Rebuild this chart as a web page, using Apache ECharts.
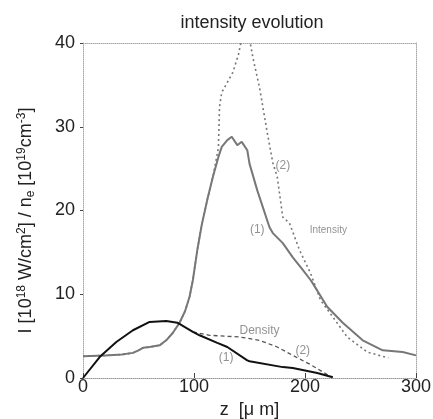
<!DOCTYPE html>
<html><head><meta charset="utf-8">
<script src="https://cdn.jsdelivr.net/npm/echarts@6/dist/echarts.min.js"></script>
<style>html,body{margin:0;padding:0;background:#fff}#c{width:433px;height:419px}</style>
</head><body><div id="c"></div>
<script>
const xTicks = [0, 100, 200, 300];
const yTicks = [0, 10, 20, 30, 40];
const intensity1 = [[0,2.6],[20,2.7],[35,2.8],[45,3.0],[50,3.3],[54,3.6],[60,3.7],[69,3.9],[75,4.5],[81,5.4],[87,6.6],[92,8.0],[96,9.7],[99,11.7],[103,15.3],[107,18.3],[112,21.3],[117,24.0],[122,26.4],[125,27.6],[130,28.4],[134,28.8],[139,27.8],[143,28.2],[148,27.2],[150,25.6],[157,22.4],[162,20.4],[168,18.0],[171,17.3],[180,16.1],[189,14.4],[198,12.9],[205,11.7],[207,11.3],[220,8.5],[234,6.6],[252,4.5],[270,3.3],[288,3.1],[300,2.7]];
const intensity2 = [[0,2.6],[20,2.7],[35,2.8],[45,3.0],[50,3.3],[54,3.6],[60,3.7],[69,3.9],[75,4.5],[81,5.4],[87,6.6],[92,8.0],[96,9.7],[99,11.7],[103,15.3],[107,18.3],[112,21.3],[117,24.0],[122,27.5],[123,32.4],[125,34.1],[130,35.3],[135,36.5],[140,38.6],[143,40.5],[150,40.5],[153,38.3],[159,34.7],[166,29.3],[171,25.7],[175,24.0],[180,19.2],[186,18.5],[195,15.3],[205,12.5],[214,9.3],[225,7.3],[238,4.9],[256,3.1],[275,2.4]];
const density1 = [[0,0],[15,2.5],[30,4.3],[45,5.7],[60,6.7],[75,6.8],[85,6.6],[99,5.5],[105,5.1],[121,4.2],[130,3.7],[148,2.1],[150,2.0],[180,1.3],[189,1.2],[211,0.6],[225,0.1]];
const density2 = [[99,5.5],[114,5.1],[141,4.9],[159,4.5],[175,3.7],[189,2.7],[205,1.6],[220,0.4],[225,0.1]];
const notes = [
  {text:'(2)', at:[180,25.4], size:12},
  {text:'(1)', at:[157,17.7], size:12},
  {text:'Intensity', at:[221,17.7], size:10},
  {text:'Density', at:[159,5.6], size:12},
  {text:'(1)', at:[129,2.4], size:12},
  {text:'(2)', at:[198,3.3], size:12}
];
const chart = echarts.init(document.getElementById('c'));
const font = '"Liberation Sans", Arial, sans-serif';
chart.setOption({
  animation:false,
  title:{text:'intensity evolution', left:247, top:9, textAlign:'center',
    textStyle:{fontFamily:font, fontSize:18, fontWeight:'normal', color:'#222'}},
  grid:{left:83, right:17, top:43, bottom:41, outerBoundsMode:'none', containLabel:false},
  xAxis:[{type:'value', min:0, max:300, interval:100,
    name:'z  [μ m]', nameLocation:'middle', nameGap:21,
    nameTextStyle:{fontFamily:font, fontSize:18, color:'#222'},
    axisLine:{lineStyle:{color:'#999', type:'dotted'}},
    axisTick:{inside:true, length:5, lineStyle:{color:'#444'}},
    axisLabel:{fontFamily:font, fontSize:18, color:'#222', margin:0,
      formatter:v=>xTicks.includes(v)?String(v):''},
    splitLine:{show:false}},
   {type:'value', position:'top', min:0, max:300, interval:100,
    axisLine:{show:true, onZero:false, lineStyle:{color:'#aaa', type:'dotted'}},
    axisTick:{show:false}, axisLabel:{show:false}, splitLine:{show:false}}],
  yAxis:[{type:'value', min:0, max:40, interval:10,
    name:'{n|I [10}{s|18}{n| W/cm}{s|2}{n|] / n}{b|e}{n| [10}{s|19}{n|cm}{s|-3}{n|]}',
    nameLocation:'middle', nameGap:46, nameRotate:90,
    nameTextStyle:{padding:[0,20,0,0], rich:{
      n:{fontFamily:font, fontSize:18, color:'#222'},
      s:{fontFamily:font, fontSize:12, color:'#222', verticalAlign:'top', padding:[0,0,9,0]},
      b:{fontFamily:font, fontSize:12, color:'#222', verticalAlign:'bottom', padding:[9,0,0,0]}}},
    axisLine:{lineStyle:{color:'#aaa', type:'dotted'}},
    axisTick:{show:true, length:3, lineStyle:{color:'#444'}},
    axisLabel:{fontFamily:font, fontSize:18, color:'#222', margin:8,
      formatter:v=>yTicks.includes(v)?String(v):''},
    splitLine:{show:false}},
   {type:'value', position:'right', min:0, max:40, interval:10,
    axisLine:{show:true, onZero:false, lineStyle:{color:'#aaa', type:'dotted'}},
    axisTick:{show:false}, axisLabel:{show:false}, splitLine:{show:false}}],
  series:[
    {type:'line', data:intensity2, symbol:'none', clip:true,
      lineStyle:{color:'#777', width:1.6, type:[2,3]}},
    {type:'line', data:intensity1, symbol:'none',
      lineStyle:{color:'#777', width:2}},
    {type:'line', data:density2, symbol:'none',
      lineStyle:{color:'#555', width:1.3, type:[4,3]}},
    {type:'line', data:density1, symbol:'none',
      lineStyle:{color:'#111', width:2}},
    {type:'scatter', data:notes.map(n=>({value:n.at, label:{formatter:n.text, fontSize:n.size}})),
      symbolSize:0, silent:true,
      label:{show:true, position:'inside', color:'#777', fontFamily:font}}
  ]
});
</script></body></html>
